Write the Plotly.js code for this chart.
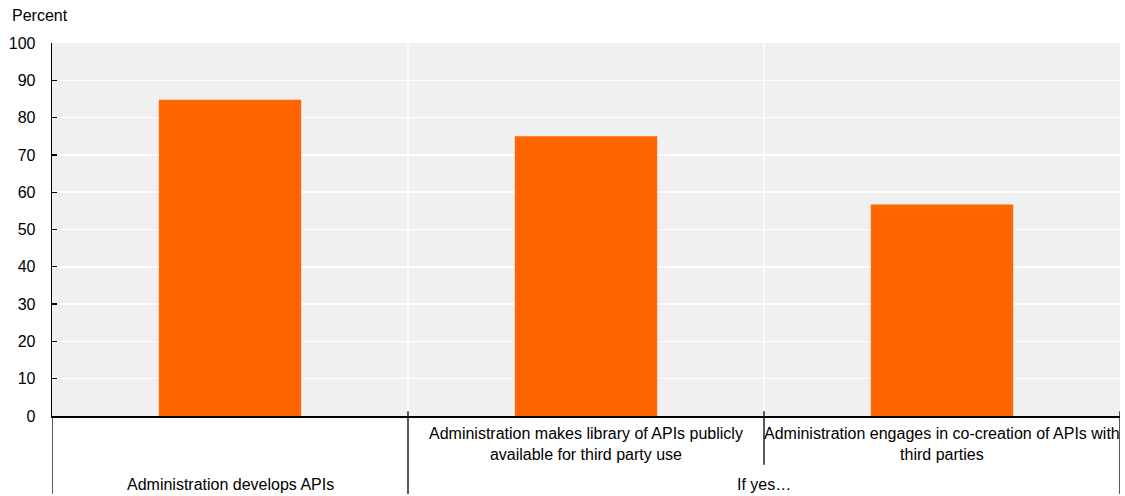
<!DOCTYPE html>
<html><head><meta charset="utf-8">
<script src="https://cdn.plot.ly/plotly-3.0.1.min.js"></script>
<style>body{margin:0;background:#fff}#c{width:1125px;height:496px}</style>
</head><body><div id="c"></div>
<script>
const categories = ["Administration develops APIs",
  "Administration makes library of APIs publicly<br>available for third party use",
  "Administration engages in co-creation of APIs with<br>third parties"];
const values = [84.8, 75.0, 56.7];
const groupLabels = ["Administration develops APIs", "If yes\u2026"];
const groupSpans = [[0, 0], [1, 2]];
const yTicks = [0,10,20,30,40,50,60,70,80,90,100];

const idx = categories.map((_, i) => i);
const font = {family: "Liberation Sans, Arial, sans-serif", size: 16, color: "#000"};

const shapes = [];
for (let i = 0; i < categories.length - 1; i++) {
  shapes.push({type:"line", xref:"x", yref:"paper", x0:i+0.5, x1:i+0.5, y0:0, y1:1,
    line:{color:"#fff", width:1.5}, layer:"below"});
}
const bounds = [-0.5];
idx.forEach(i => bounds.push(i + 0.5));
bounds.forEach(b => {
  const isGroupEdge = groupSpans.some(s => s[0] - 0.5 === b || s[1] + 0.5 === b);
  shapes.push({type:"line", xref:"x", yref:"paper", x0:b, x1:b,
    y0: b === -0.5 ? 0 : 0.013, y1: isGroupEdge ? -0.209 : -0.131,
    line:{color:"#000", width:1.3}});
});

const annotations = [{text:"Percent", xref:"paper", yref:"paper", x:-0.039, y:1.045,
  xanchor:"left", yanchor:"bottom", showarrow:false, font:font}];
groupSpans.forEach((s, g) => {
  if (s[1] > s[0]) {
    for (let i = s[0]; i <= s[1]; i++) {
      annotations.push({text: categories[i], xref:"x", yref:"paper", x:i, y:-0.02,
        xanchor:"center", yanchor:"top", showarrow:false, font:font, align:"center"});
    }
  }
  annotations.push({text: groupLabels[g], xref:"x", yref:"paper", x:(s[0]+s[1])/2, y:-0.155,
    xanchor:"center", yanchor:"top", showarrow:false, font:font});
});

Plotly.newPlot("c", [{
  type:"bar", x: idx, y: values, width: 0.4,
  marker:{color:"#FF6600"}, hoverinfo:"none"
}], {
  width:1125, height:496,
  margin:{l:52, r:5, t:43, b:80},
  paper_bgcolor:"#fff", plot_bgcolor:"#F0F0F0",
  font: font,
  showlegend:false,
  xaxis:{range:[-0.5, categories.length - 0.5], showticklabels:false, ticks:"",
    showgrid:false, zeroline:false, showline:true, linecolor:"#000", linewidth:1.5},
  yaxis:{range:[0,100], tickvals:yTicks, ticktext:yTicks.map(String),
    ticks:"inside", ticklen:5, tickcolor:"#000", tickwidth:1.3,
    showline:true, linecolor:"#000", linewidth:1.3,
    gridcolor:"#fff", gridwidth:1.5, zeroline:false,
    ticklabelstandoff:12, tickfont:font},
  shapes: shapes,
  annotations: annotations
}, {staticPlot:true});
</script></body></html>
